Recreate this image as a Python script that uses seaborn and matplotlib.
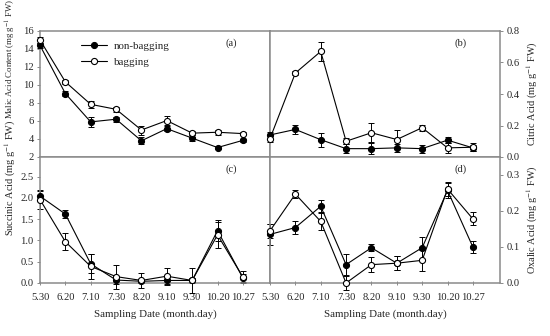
import numpy as np
import pandas as pd
import matplotlib
matplotlib.use("Agg")
import matplotlib.pyplot as plt
import seaborn as sns

dates = ["5.30", "6.20", "7.10", "7.30", "8.20", "9.10", "9.30", "10.20", "10.27"]

malic_nb = [14.4, 9.05, 5.9, 6.2, 3.8, 5.15, 4.1, 3.05, 3.85]
malic_nb_err = [0.3, 0.3, 0.6, 0.3, 0.4, 0.3, 0.3, 0.2, 0.2]
malic_b = [15.0, 10.35, 7.85, 7.3, 5.0, 6.05, 4.65, 4.75, 4.6]
malic_b_err = [0.3, 0.2, 0.4, 0.3, 0.5, 0.5, 0.2, 0.3, 0.2]

citric_nb = [0.14, 0.175, 0.11, 0.053, 0.053, 0.058, 0.053, 0.107, 0.058]
citric_nb_err = [0.02, 0.03, 0.045, 0.03, 0.035, 0.025, 0.025, 0.02, 0.02]
citric_b = [0.117, 0.533, 0.67, 0.10, 0.154, 0.111, 0.186, 0.058, 0.062]
citric_b_err = [0.02, 0.015, 0.06, 0.02, 0.06, 0.06, 0.02, 0.03, 0.025]

succ_nb = [2.04, 1.62, 0.45, 0.07, 0.04, 0.06, 0.06, 1.23, 0.12]
succ_nb_err = [0.12, 0.1, 0.22, 0.1, 0.05, 0.08, 0.06, 0.25, 0.1]
succ_b = [1.96, 0.97, 0.39, 0.15, 0.06, 0.16, 0.06, 1.13, 0.14]
succ_b_err = [0.22, 0.2, 0.3, 0.28, 0.18, 0.2, 0.3, 0.3, 0.15]

oxal_nb = [0.135, 0.154, 0.213, 0.051, 0.098, 0.055, 0.098, 0.257, 0.10]
oxal_nb_err = [0.03, 0.018, 0.018, 0.03, 0.01, 0.02, 0.03, 0.02, 0.018]
oxal_b = [0.145, 0.247, 0.171, 0.0, 0.051, 0.055, 0.063, 0.261, 0.178]
oxal_b_err = [0.02, 0.01, 0.025, 0.02, 0.02, 0.02, 0.03, 0.02, 0.018]

sns.set_theme(style="white")
plt.rcParams["font.family"] = ["Liberation Serif", "DejaVu Serif"]
plt.rcParams["mathtext.fontset"] = "stix"

fig = plt.figure(figsize=(5.5, 3.36), dpi=100)
L, M, R = 40 / 550, 270 / 550, 500 / 550
T, C, B = 1 - 31 / 336, 1 - 157 / 336, 1 - 283 / 336
axa = fig.add_axes([L, C, M - L, T - C])
axb = fig.add_axes([M, C, R - M, T - C])
axc = fig.add_axes([L, B, M - L, C - B])
axd = fig.add_axes([M, B, R - M, C - B])

x = np.arange(len(dates))
gray = "#8a8a8a"
fs = 7.6


def draw(ax, nb, nbe, b, be, ylim, yticks, fmt, side, label, letter, bottom, lfs):
    df = pd.DataFrame({
        "x": np.concatenate([x, x]),
        "y": np.concatenate([nb, b]),
        "group": ["non-bagging"] * len(x) + ["bagging"] * len(x),
    })
    ax.errorbar(x, nb, yerr=nbe, fmt="none", ecolor="black", elinewidth=0.7,
                capsize=2.2, capthick=0.7, clip_on=False, zorder=2)
    ax.errorbar(x, b, yerr=be, fmt="none", ecolor="black", elinewidth=0.7,
                capsize=2.2, capthick=0.7, clip_on=False, zorder=2)
    sns.lineplot(data=df[df.group == "non-bagging"], x="x", y="y", ax=ax,
                 color="black", lw=0.8, marker="o", markersize=4.4,
                 markerfacecolor="black", markeredgecolor="black",
                 label="non-bagging", clip_on=False, zorder=3)
    sns.lineplot(data=df[df.group == "bagging"], x="x", y="y", ax=ax,
                 color="black", lw=0.8, marker="o", markersize=4.4,
                 markerfacecolor="white", markeredgecolor="black",
                 markeredgewidth=0.8, label="bagging", clip_on=False, zorder=4)
    ax.set_xlim(0, 9.07)
    ax.set_ylim(*ylim)
    ax.set_yticks(yticks)
    ax.set_yticklabels([fmt.format(v) for v in yticks], fontsize=fs)
    for s in ax.spines.values():
        s.set_color(gray)
        s.set_linewidth(1.1)
    if side == "right":
        ax.yaxis.tick_right()
        ax.yaxis.set_label_position("right")
    ax.tick_params(axis="y", direction="out", length=2.5, width=0.7,
                   color=gray, pad=2, left=(side == "left"), right=(side == "right"),
                   labelleft=(side == "left"), labelright=(side == "right"))
    ax.set_ylabel(label, fontsize=lfs)
    if bottom:
        ax.set_xticks(x)
        ax.set_xticklabels(dates, fontsize=fs)
        ax.tick_params(axis="x", direction="inout", length=3, width=0.7,
                       color=gray, pad=6, bottom=True)
        ax.set_xlabel("Sampling Date (month.day)", fontsize=fs + 0.3, labelpad=5)
    else:
        ax.set_xticks([])
        ax.set_xlabel("")
    ax.text(0.83, 0.9, letter, transform=ax.transAxes, fontsize=fs,
            ha="center", va="center")
    ax.get_legend().remove()


unit = r"(mg g$^{-1}$ FW)"
draw(axa, malic_nb, malic_nb_err, malic_b, malic_b_err, (2, 16),
     np.arange(2, 17, 2), "{:.0f}", "left", "Malic Acid Content " + unit, "(a)", False, 6.3)
draw(axb, citric_nb, citric_nb_err, citric_b, citric_b_err, (0, 0.8),
     np.arange(0, 0.81, 0.2), "{:.1f}", "right", "Citric Acid " + unit, "(b)", False, 7.4)
draw(axc, succ_nb, succ_nb_err, succ_b, succ_b_err, (0, 2.96),
     np.arange(0, 2.51, 0.5), "{:.1f}", "left", "Succinic Acid " + unit, "(c)", True, 7.4)
draw(axd, oxal_nb, oxal_nb_err, oxal_b, oxal_b_err, (0, 0.35),
     np.arange(0, 0.31, 0.1), "{:.1f}", "right", "Oxalic Acid " + unit, "(d)", True, 7.4)

axa.yaxis.set_label_coords(-0.095, (157 - 59) / 126)
axc.yaxis.set_label_coords(-0.095, (283 - 178) / 126)
axb.yaxis.set_label_coords(1.11, 0.5)
axd.yaxis.set_label_coords(1.11, 0.5)

h, l = axa.get_legend_handles_labels()
axa.legend(h, l, loc="upper left", bbox_to_anchor=(0.15, 0.97), frameon=False,
           fontsize=fs + 0.3, handlelength=2.4, handletextpad=0.6,
           labelspacing=0.55, borderaxespad=0.2)

fig.savefig("out.png", dpi=100)
